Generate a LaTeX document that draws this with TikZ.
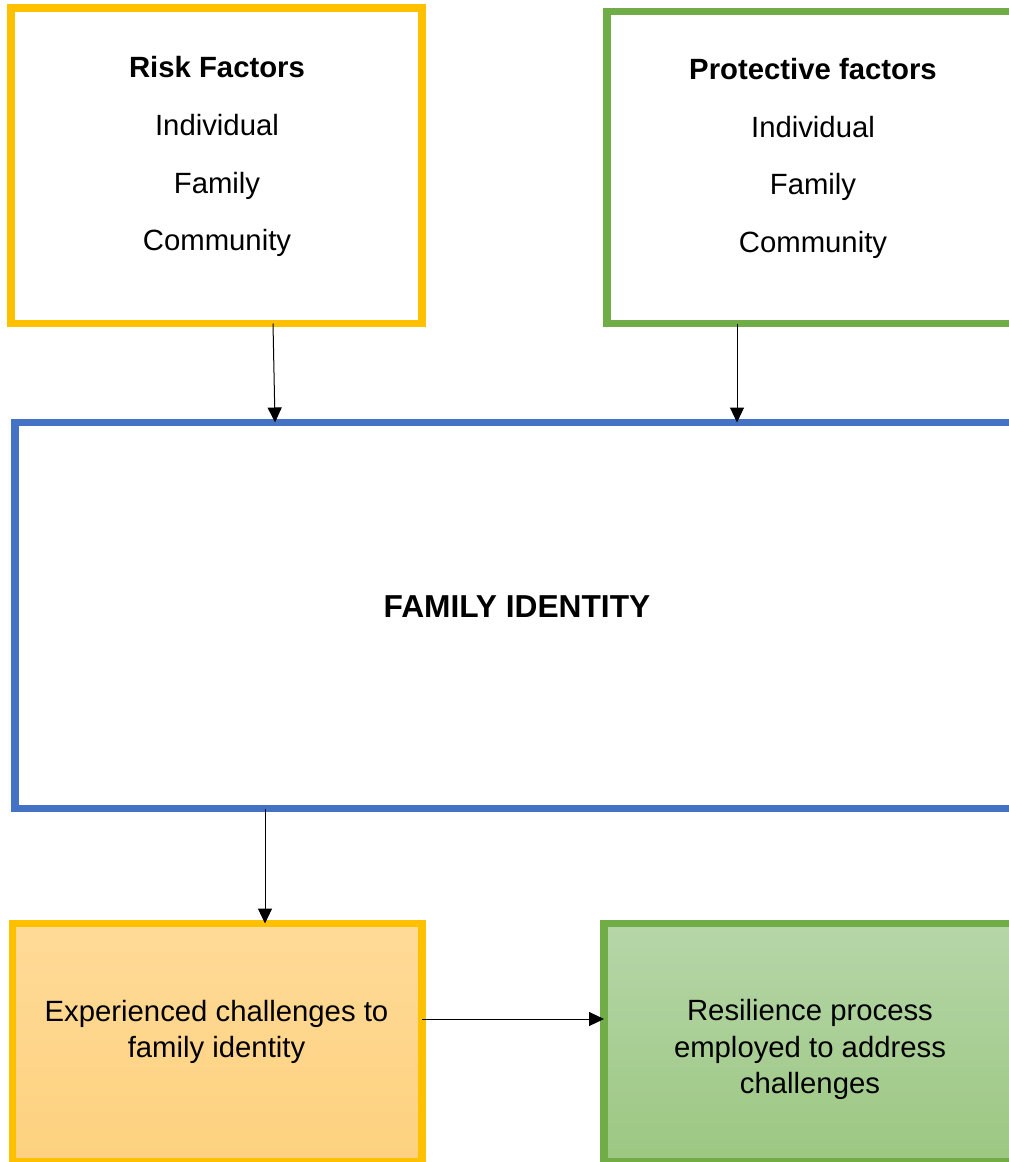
\documentclass[tikz,border=0pt]{standalone}
\usepackage{fontspec}
\setmainfont{Liberation Sans}
\usetikzlibrary{arrows.meta,calc}
\definecolor{ryellow}{HTML}{FFC000}
\definecolor{rgreen}{HTML}{70AD47}
\definecolor{rblue}{HTML}{4472C4}
\definecolor{yfilltop}{HTML}{FFDA98}
\definecolor{yfillbot}{HTML}{FDD17E}
\definecolor{gfilltop}{HTML}{B6D6A8}
\definecolor{gfillbot}{HTML}{9CC782}
\begin{document}
\begin{tikzpicture}[x=1pt,y=-1pt]
\tikzset{
  frame/.style={draw, line width=7.8pt, inner sep=0pt, outer sep=0pt},
  txt/.style={font=\fontsize{29.3}{35}\selectfont, anchor=base, inner sep=0pt},
  btxt/.style={txt, font=\fontsize{29.3}{35}\selectfont\bfseries},
  conn/.style={line width=1pt, -{Triangle[length=15pt,width=14pt]}},
}
\useasboundingbox (0,0) rectangle (1009,1162);
\clip (0,0) rectangle (1009,1162);
\fill[white] (0,0) rectangle (1009,1162);

% boxes
\node[frame, draw=ryellow, minimum width=411pt, minimum height=315.5pt] (risk) at (216.5,165.75) {};
\node[frame, draw=rgreen, minimum width=412pt, minimum height=312pt] (prot) at (813,167.5) {};
\node[frame, draw=rblue, minimum width=1004pt, minimum height=386pt] (ident) at (517,615.5) {};
\node[frame, draw=ryellow, top color=yfilltop, bottom color=yfillbot, minimum width=409.5pt, minimum height=238.5pt] (chal) at (217.25,1042.75) {};
\node[frame, draw=rgreen, top color=gfilltop, bottom color=gfillbot, minimum width=412pt, minimum height=238.5pt] (resil) at (810,1042.75) {};

% texts
\node[btxt] (rf1) at (217,77) {Risk Factors};
\node[txt] (rf2) at (217,135) {Individual};
\node[txt] (rf3) at (217,193) {Family};
\node[txt] (rf4) at (217,250) {Community};

\node[btxt] (pf1) at (813,79) {Protective factors};
\node[txt] (pf2) at (813,137) {Individual};
\node[txt] (pf3) at (813,194.5) {Family};
\node[txt] (pf4) at (813,252) {Community};

\node[txt, font=\fontsize{31.7}{38}\selectfont\bfseries] (fi) at (517,617) {FAMILY IDENTITY};

\node[txt] (ch1) at (216.5,1021) {Experienced challenges to};
\node[txt] (ch2) at (216.5,1057.5) {family identity};

\node[txt] (rs1) at (810,1020.5) {Resilience process};
\node[txt] (rs2) at (810,1057) {employed to address};
\node[txt] (rs3) at (810,1093.5) {challenges};

% connectors
\draw[conn] ([xshift=56.5pt]risk.south) -- ([xshift=-242pt]ident.north);
\draw[conn] ([xshift=-76pt]prot.south) -- ([xshift=220pt]ident.north);
\draw[conn] ([xshift=-252pt]ident.south) -- ([xshift=47.75pt]chal.north);
\draw[conn] ([yshift=23.75pt]chal.east) -- ([yshift=23.75pt]resil.west);
\end{tikzpicture}
\end{document}
